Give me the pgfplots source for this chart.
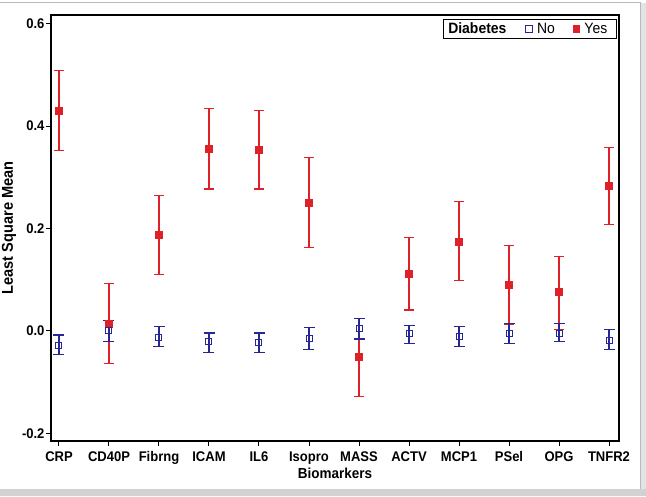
\documentclass[border=0pt]{standalone}
\usepackage{pgfplots}
\pgfplotsset{compat=1.18}
\usepackage{pgfplotstable}
\usepackage{fontspec}
\setmainfont{Liberation Sans}[FakeStretch=0.93]
\definecolor{sasred}{RGB}{222,32,40}
\definecolor{sasblue}{RGB}{38,38,150}

\pgfplotstableread{
x y ep em
0 0.430 0.078 0.078
1 0.014 0.078 0.078
2 0.187 0.077 0.077
3 0.356 0.078 0.079
4 0.354 0.077 0.077
5 0.251 0.087 0.088
6 -0.051 0.075 0.077
7 0.111 0.071 0.070
8 0.175 0.078 0.077
9 0.090 0.077 0.078
10 0.076 0.070 0.073
11 0.283 0.075 0.075
}\yesdata

\pgfplotstableread{
x y ep em
0 -0.028 0.020 0.018
1 0.001 0.019 0.021
2 -0.012 0.020 0.018
3 -0.021 0.017 0.021
4 -0.022 0.018 0.020
5 -0.014 0.020 0.022
6 0.004 0.020 0.020
7 -0.005 0.016 0.019
8 -0.010 0.018 0.020
9 -0.005 0.019 0.019
10 -0.005 0.020 0.016
11 -0.018 0.021 0.018
}\nodata

\begin{document}
\begin{tikzpicture}
% background panel (pixel frame)
\fill[white] (-51pt,-55pt) rectangle (595pt,441pt);
\fill[gray!22] (589pt,-55pt) rectangle (595pt,438pt);
\fill[gray!35] (-51pt,-55pt) rectangle (595pt,-48pt);
\draw[gray!55, line width=1pt] (-51pt,438pt) -- (589pt,438pt) -- (589pt,-48pt);
\begin{axis}[
  at={(0pt,0pt)}, anchor=south west,
  scale only axis,
  width=568pt, height=426pt,
  xmin=-0.16, xmax=11.2,
  ymin=-0.215, ymax=0.617,
  xtick={0,1,2,3,4,5,6,7,8,9,10,11},
  xticklabels={CRP,CD40P,Fibrng,ICAM,IL6,Isopro,MASS,ACTV,MCP1,PSel,OPG,TNFR2},
  ytick={-0.2,0,0.2,0.4,0.6},
  yticklabels={-0.2,0.0,0.2,0.4,0.6},
  xtick pos=bottom, ytick pos=left,
  tick align=outside,
  major tick length=5pt,
  tick style={line width=1pt, black},
  axis line style={line width=1.2pt, black},
  ticklabel style={font=\bfseries\fontsize{14}{15}\selectfont},
  xticklabel style={yshift=-2pt},
  yticklabel style={xshift=2pt},
  xlabel style={font=\bfseries\fontsize{14.5}{16}\selectfont, yshift=4pt},
  ylabel style={font=\bfseries\fontsize{15.7}{17}\selectfont, yshift=-1pt},
  xlabel={Biomarkers},
  ylabel={Least Square Mean},
  legend style={at={(0.996,0.990)}, anchor=north east, draw=black,
    line width=1pt, font=\fontsize{15}{16}\selectfont,
    inner sep=1.5pt, outer sep=0pt,
    /tikz/every odd column/.append style={column sep=3pt},
    /tikz/every even column/.append style={column sep=16pt}},
  legend columns=-1,
  legend cell align=left,
]
\addlegendimage{empty legend}
\addlegendentry{\hspace{-2pt}\textbf{Diabetes}\hspace{1pt}\mbox{}}
\addlegendimage{only marks, mark=square, mark size=3.3pt, sasblue, mark options={line width=1pt}}
\addlegendentry{No}
\addlegendimage{only marks, mark=square*, mark size=3.3pt, sasred, mark options={line width=0.4pt}}
\addlegendentry{Yes\hspace{6pt}\mbox{}}

\addplot[forget plot, only marks, mark=square*, mark size=3.5pt, color=sasred,
  mark options={line width=0.4pt, draw=sasred, fill=sasred},
  error bars/.cd, y dir=both, y explicit,
  error bar style={line width=1.6pt, draw=sasred, color=sasred},
  error mark options={rotate=90, mark size=5pt, line width=1.3pt, draw=sasred}]
  table[x=x, y=y, y error plus=ep, y error minus=em] {\yesdata};

\addplot[forget plot, only marks, mark=square, mark size=3pt, color=sasblue,
  mark options={line width=1pt, draw=sasblue},
  error bars/.cd, y dir=both, y explicit,
  error bar style={line width=1.6pt, draw=sasblue, color=sasblue},
  error mark options={rotate=90, mark size=5.5pt, line width=1.3pt, draw=sasblue}]
  table[x=x, y=y, y error plus=ep, y error minus=em] {\nodata};
\end{axis}
\pgfresetboundingbox
\path (-51pt,-55pt) rectangle (595pt,441pt);
\end{tikzpicture}
\end{document}
